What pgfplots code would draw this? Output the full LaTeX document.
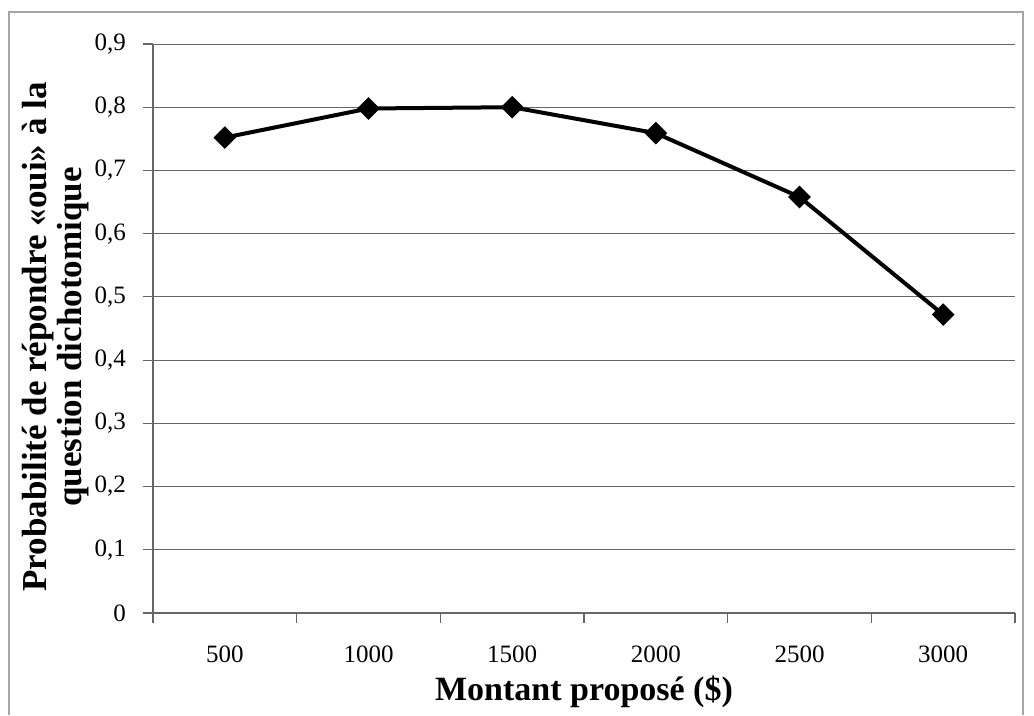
\documentclass[border=0pt]{standalone}
\usepackage{fontspec}
\setmainfont{Liberation Serif}
\usepackage{pgfplots}
\pgfplotsset{compat=1.18}
\begin{document}
\begin{tikzpicture}
% canvas 1034 x 715 px at 0.5pt per px
\path (0pt,0pt) rectangle (517pt,357.5pt);
\draw[gray!70, line width=0.6pt] (4.5pt,0pt) -- (4.5pt,351.5pt) -- (511.5pt,351.5pt) -- (511.5pt,0pt);
\begin{axis}[
  at={(76.5pt,51pt)}, anchor=south west,
  scale only axis, width=431pt, height=284.5pt,
  xmin=250, xmax=3250, ymin=0, ymax=0.9,
  xtick={500,1000,1500,2000,2500,3000},
  minor xtick={250,750,1250,1750,2250,2750,3250},
  ytick={0,0.1,...,0.9},
  axis x line*=bottom, axis y line*=left,
  axis line style={gray!80!black, line width=0.6pt, -},
  major x tick style={draw=none},
  minor x tick style={gray!80!black, line width=0.6pt},
  major y tick style={gray!80!black, line width=0.6pt},
  tick align=outside, major tick length=5pt, minor tick length=5pt,
  ymajorgrids, grid style={gray!80!black, line width=0.5pt},
  /pgf/number format/assume math mode=true,
  /pgf/number format/use comma,
  yticklabel style={/pgf/number format/fixed, /pgf/number format/precision=1, font=\fontsize{12.5}{14}\selectfont, xshift=-5pt},
  xticklabel style={/pgf/number format/1000 sep={}, font=\fontsize{12.5}{14}\selectfont, yshift=-8pt},
  scaled y ticks=false,
  xlabel={Montant proposé (\$)},
  xlabel style={font=\bfseries\fontsize{17}{19}\selectfont, at={(axis description cs:0.5,-0.139)}, anchor=center},
  ylabel={Probabilité de répondre «oui» à la\\question dichotomique},
  ylabel style={font=\bfseries\fontsize{17.5}{17.5}\selectfont, align=center, at={(axis description cs:-0.113,0.485)}, anchor=center},
]
\addplot[black, line width=2pt, mark=square*, mark size=3pt, mark options={rotate=45, solid}]
coordinates {(500,0.752) (1000,0.798) (1500,0.800) (2000,0.759) (2500,0.658) (3000,0.472)};
\end{axis}
\end{tikzpicture}
\end{document}
